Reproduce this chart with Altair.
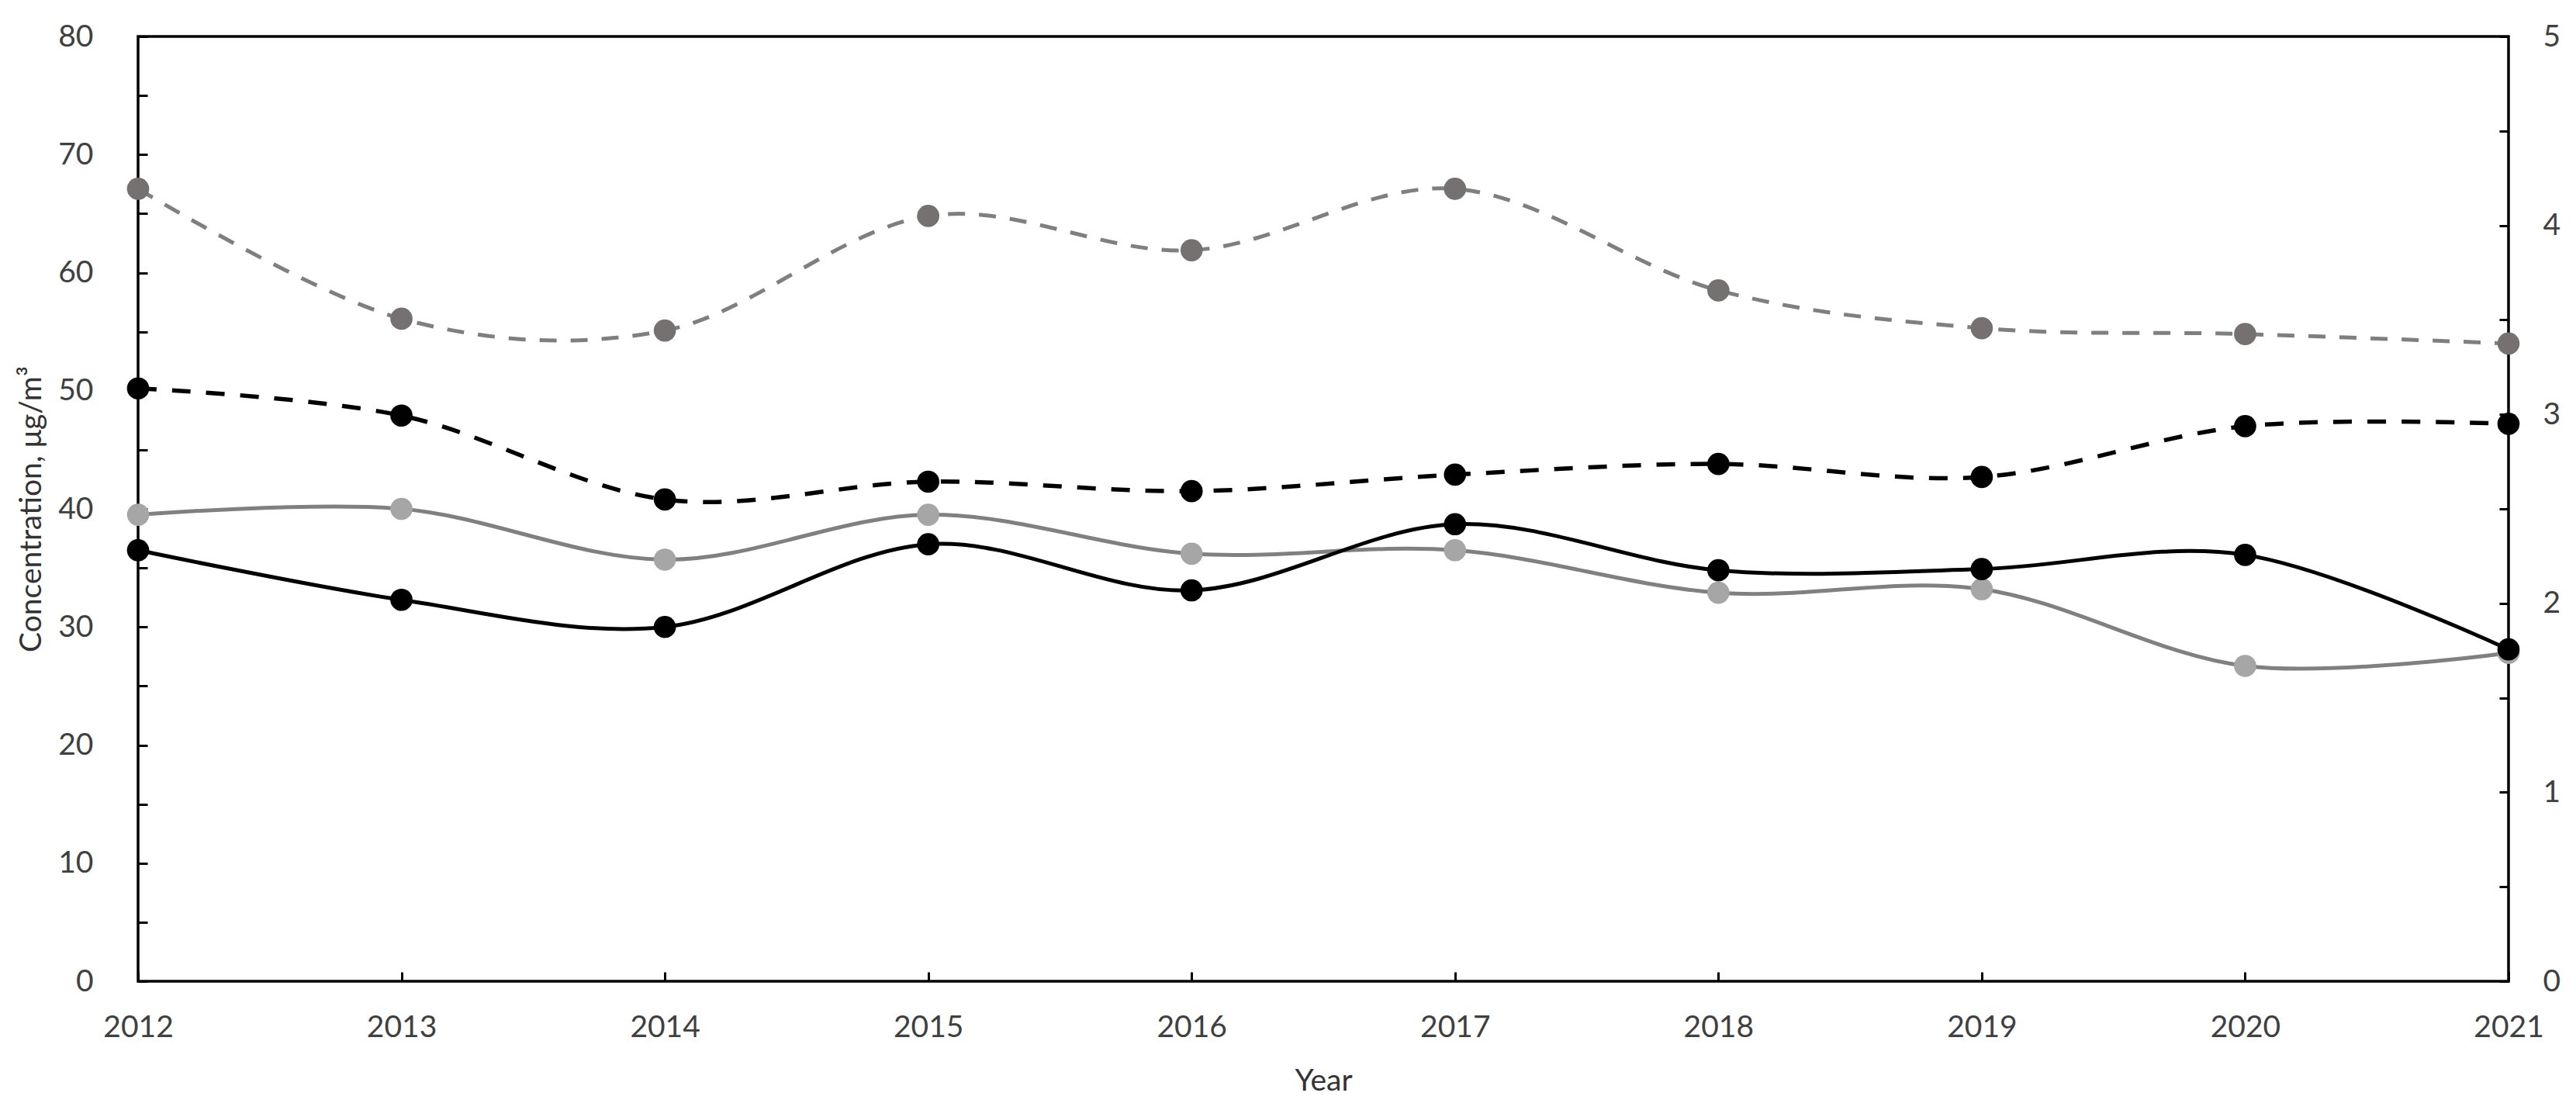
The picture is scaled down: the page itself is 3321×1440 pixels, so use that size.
import altair as alt
import pandas as pd

years = [2012, 2013, 2014, 2015, 2016, 2017, 2018, 2019, 2020, 2021]
grey_dashed = [67.1, 56.1, 55.1, 64.8, 61.9, 67.1, 58.5, 55.3, 54.8, 54.0]
black_dashed = [50.2, 47.9, 40.8, 42.3, 41.5, 42.9, 43.8, 42.7, 47.0, 47.2]
grey_solid = [39.5, 40.0, 35.7, 39.5, 36.2, 36.5, 32.9, 33.2, 26.7, 27.8]
black_solid = [36.5, 32.3, 30.0, 37.0, 33.1, 38.7, 34.8, 34.9, 36.1, 28.1]
left_ticks = [0, 10, 20, 30, 40, 50, 60, 70, 80]
left_minor = [0, 5, 10, 15, 20, 25, 30, 35, 40, 45, 50, 55, 60, 65, 70, 75, 80]
right_ticks = [0, 1, 2, 3, 4, 5]
right_minor = [0, 0.5, 1, 1.5, 2, 2.5, 3, 3.5, 4, 4.5, 5]

W, H = 3056, 1218
FONT = "Lato"
LBL = 39
LCOL = "#404040"

df = pd.DataFrame({
    "year": years,
    "gd": grey_dashed,
    "bd": black_dashed,
    "gs": grey_solid,
    "bs": black_solid,
})

xscale = alt.Scale(domain=[2012, 2021], nice=False, zero=False)
yscale = alt.Scale(domain=[0, 80], nice=False)
rscale = alt.Scale(domain=[0, 5], nice=False)

x_main = alt.X("year:Q", scale=xscale, axis=alt.Axis(
    values=years, format="d", title="Year", tickSize=0, domain=False, grid=False,
    labelFlush=False, labelPadding=40, labelFont=FONT, labelFontSize=LBL,
    labelColor=LCOL, titleFont=FONT, titleFontSize=LBL, titleColor="#333333",
    titleFontWeight="normal", titlePadding=30))


def y_main(field):
    return alt.Y(f"{field}:Q", scale=yscale, axis=alt.Axis(
        values=left_ticks, title="Concentration, μg/m³", tickSize=0, domain=False,
        grid=False, labelFlush=False, labelPadding=58, labelFont=FONT,
        labelFontSize=LBL, labelColor=LCOL, titleFont=FONT, titleFontSize=LBL,
        titleColor="#333333", titleFontWeight="normal", titlePadding=14))


def line(field, color, dash, width):
    kw = dict(interpolate="cardinal", tension=0, color=color, strokeWidth=width)
    if dash:
        kw["strokeDash"] = dash
    return alt.Chart(df).mark_line(**kw).encode(x=x_main, y=y_main(field))


def pts(field, color):
    return alt.Chart(df).mark_circle(size=820, color=color, opacity=1).encode(
        x=x_main, y=y_main(field))


data_layer = alt.layer(
    line("gd", "#7f7f7f", [22, 18], 5),
    line("bd", "#000000", [24, 20], 5.5),
    line("gs", "#808080", None, 5),
    line("bs", "#000000", None, 5),
    pts("gd", "#767171"),
    pts("bd", "#000000"),
    pts("gs", "#a6a6a6"),
    pts("bs", "#000000"),
)

# right axis with labels
right_axis = alt.Chart(df).mark_point(opacity=0).encode(
    x=alt.X("year:Q", scale=xscale, axis=None),
    y=alt.Y("bd:Q", scale=rscale, axis=alt.Axis(
        orient="right", values=right_ticks, title=None, tickSize=0, domain=False,
        grid=False, labelFlush=False, labelPadding=44, labelFont=FONT,
        labelFontSize=LBL, labelColor=LCOL)),
)

# inward ticks: left axis and bottom axis
inner_left = alt.Chart(df).mark_point(opacity=0).encode(
    x=alt.X("year:Q", scale=xscale, axis=alt.Axis(
        orient="top", offset=-H, values=years, labels=False, tickSize=12,
        tickWidth=3, tickColor="#000000", domain=False, grid=False, title=None)),
    y=alt.Y("bs:Q", scale=yscale, axis=alt.Axis(
        orient="right", offset=-W, values=left_minor, labels=False, tickSize=12,
        tickWidth=3, tickColor="#000000", domain=False, grid=False, title=None)),
)

# inward ticks: right axis
inner_right = alt.Chart(df).mark_point(opacity=0).encode(
    x=alt.X("year:Q", scale=xscale, axis=None),
    y=alt.Y("gs:Q", scale=rscale, axis=alt.Axis(
        orient="left", offset=-W, values=right_minor, labels=False, tickSize=12,
        tickWidth=3, tickColor="#000000", domain=False, grid=False, title=None)),
)

chart = alt.layer(data_layer, right_axis, inner_left, inner_right).resolve_scale(
    x="independent", y="independent"
).properties(
    width=W, height=H,
    autosize=alt.AutoSizeParams(type="none"),
    padding={"left": 170, "top": 39, "right": 79, "bottom": 160},
    background="white",
).configure_view(stroke="#000000", strokeWidth=3.5)

chart.save("out.html", embed_options={"renderer": "svg", "actions": False})
